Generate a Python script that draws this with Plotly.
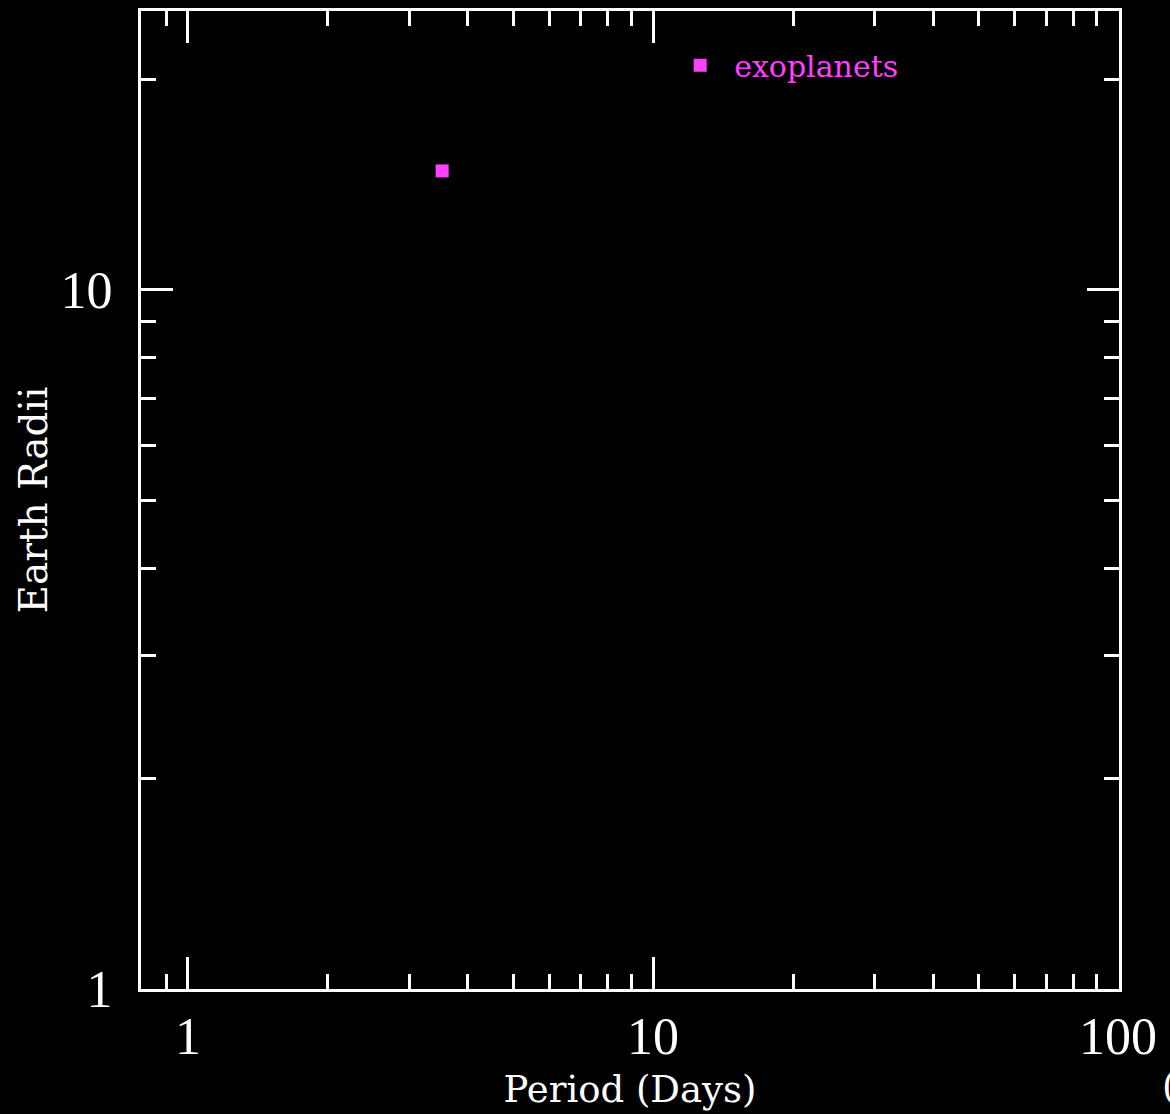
import plotly.graph_objects as go

# Exoplanet sample: orbital period (days) and radius (Earth radii)
period_days = [3.52]
radius_earth = [14.8]
series_name = "exoplanets"

# Axis tick values
x_major = [1, 10, 100]
x_major_text = ["1", "10", "100"]
x_minor = [0.9, 2, 3, 4, 5, 6, 7, 8, 9, 20, 30, 40, 50, 60, 70, 80, 90]
y_major = [1, 10]
y_major_text = ["1", "10"]
y_minor = [2, 3, 4, 5, 6, 7, 8, 9, 20]

MAGENTA = "#ff40ff"
WHITE = "#ffffff"
TICK_FONT = dict(family="Liberation Serif", size=52, color=WHITE)
TITLE_FONT = dict(family="DejaVu Serif", size=37, color=WHITE)

fig = go.Figure()
fig.add_trace(go.Scatter(
    x=period_days, y=radius_earth, mode="markers", name=series_name,
    marker=dict(symbol="square", size=13, color=MAGENTA, line=dict(width=0)),
))

axis_common = dict(
    type="log", automargin=False,
    showgrid=False, zeroline=False,
    showline=True, linecolor=WHITE, linewidth=3, mirror="allticks",
    ticks="inside", ticklen=32, tickwidth=3, tickcolor=WHITE,
    tickfont=TICK_FONT, tickmode="array",
)

fig.update_xaxes(
    **axis_common,
    range=[-0.101, 2.002],
    tickvals=x_major, ticktext=x_major_text,
    ticklabelstandoff=0,
    minor=dict(tickmode="array", tickvals=x_minor, ticks="inside",
               ticklen=15, tickwidth=3, tickcolor=WHITE),
    title=dict(text="Period (Days)", font=TITLE_FONT, standoff=12),
)
fig.update_yaxes(
    **axis_common,
    range=[0, 1.399],
    tickvals=y_major, ticktext=y_major_text,
    ticklabelstandoff=15,
    minor=dict(tickmode="array", tickvals=y_minor, ticks="inside",
               ticklen=15, tickwidth=3, tickcolor=WHITE),
    title=dict(text="Earth Radii", font=dict(TITLE_FONT, size=39), standoff=1),
)

fig.add_annotation(
    text="(", xref="paper", yref="paper", x=1.042, y=-0.1,
    xanchor="left", yanchor="middle", showarrow=False,
    font=dict(family="DejaVu Serif", size=37, color=WHITE),
)

fig.update_layout(
    width=1170, height=1114,
    margin=dict(l=141, r=51, t=11, b=125),
    paper_bgcolor="black", plot_bgcolor="black",
    showlegend=True,
    legend=dict(
        x=0.537, y=0.971, xanchor="left", yanchor="top",
        bgcolor="rgba(0,0,0,0)", borderwidth=0, itemwidth=58,
        font=dict(family="DejaVu Serif", size=30, color=MAGENTA),
    ),
)

fig.write_html("out.html")
